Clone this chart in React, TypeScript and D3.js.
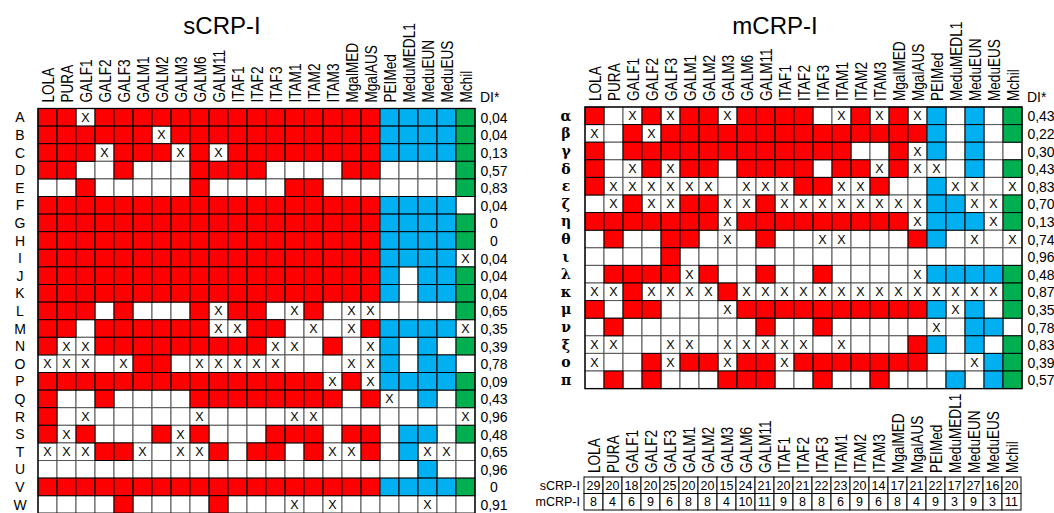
import React from "react";
import * as d3 from "d3";

const columns = ["LOLA", "PURA", "GALF1", "GALF2", "GALF3", "GALM1", "GALM2", "GALM3", "GALM6", "GALM11", "ITAF1", "ITAF2", "ITAF3", "ITAM1", "ITAM2", "ITAM3", "MgalMED", "MgalAUS", "PEIMed", "MeduMEDL1", "MeduEUN", "MeduEUS", "Mchil"];
const columnGroups = "rrrrrrrrrrrrrrrrrrbbbbg".split("");
const groupColors: Record<string, string> = { r: "#ff0000", b: "#00b0f0", g: "#00b050" };

// '1' = present (coloured), '0' = absent (white), 'x' = white cell marked X
const sRows = ["A", "B", "C", "D", "E", "F", "G", "H", "I", "J", "K", "L", "M", "N", "O", "P", "Q", "R", "S", "T", "U", "V", "W"];
const sCells = [
  "11x111111111111111 1111 1",
  "111111x11111111111 1111 1",
  "111x111x1x11111111 1111 1",
  "110010001111000011 0000 1",
  "001000001000011000 0000 1",
  "111111111111111111 1111 0",
  "111111111111111111 1111 1",
  "111111111111111111 1111 1",
  "111111111111111111 1111 x",
  "111111111111111111 1011 1",
  "111111111111111111 1011 1",
  "111010001x110x10xx 0000 1",
  "110111111xx110x0x1 1111 x",
  "1xx111111111xx010x 1010 1",
  "xxx0x110xxxxx000xx 1011 0",
  "111111111111111x1x 1111 1",
  "100100001111111101 x010 1",
  "10x00000x0000xx000 0000 x",
  "1x10001x1000111011 0110 1",
  "xxx11x0xx101101xx1 01xx 0",
  "000000000000000000 0010 0",
  "111111111111111111 1111 1",
  "0000100001000x0x00 00x0 0",
];
const sDI = ["0,04", "0,04", "0,13", "0,57", "0,83", "0,04", "0", "0", "0,04", "0,04", "0,04", "0,65", "0,35", "0,39", "0,78", "0,09", "0,43", "0,96", "0,48", "0,65", "0,96", "0", "0,91"];

const mRows = ["α", "β", "γ", "δ", "ε", "ζ", "η", "θ", "ι", "λ", "κ", "μ", "ν", "ξ", "ο", "π"];
const mCells = [
  "10x1x11x11110x1x1x 1010 1",
  "x01x11111111111111 1010 1",
  "10111111111111001x 1010 0",
  "10x1x1101111011x1x x010 1",
  "1xxxxxx0xxx11xx100 1xx0 x",
  "0x1xx11xx1xxxxxxxx 11xx 1",
  "1111111x111111111x 111x 1",
  "0100110x0100xx0001 10x0 x",
  "000010000000000000 0000 0",
  "01111x10010010000x 1111 1",
  "xx1xxxx1xxxxxxxxxx xxxx 1",
  "1011000x1111111111 1x10 1",
  "010000000100100000 x011 0",
  "xx00xx0xxxxx0x0001 1010 1",
  "x001x11x11x1111111 00x1 1",
  "010100011100100100 0101 1",
];
const mDI = ["0,43", "0,22", "0,30", "0,43", "0,83", "0,70", "0,13", "0,74", "0,96", "0,48", "0,87", "0,35", "0,78", "0,83", "0,39", "0,57"];

const tableRows = ["sCRP-I", "mCRP-I"];
const sCounts = [29, 20, 18, 20, 25, 20, 20, 15, 24, 21, 20, 21, 22, 23, 20, 14, 17, 21, 22, 17, 27, 16, 20];
const mCounts = [8, 4, 6, 9, 6, 8, 8, 4, 10, 11, 9, 8, 8, 6, 9, 6, 8, 4, 9, 3, 9, 3, 11];

const SANS = "'Liberation Sans', Arial, sans-serif";
const CW = 19;
const RH = 17.6;

function ColumnHeaders({ x, bottom }: { x: d3.ScaleBand<string>; bottom: number }) {
  return (
    <g>
      {columns.map((c) => (
        <text
          key={c}
          transform={`translate(${(x(c) as number) + x.bandwidth() / 2 + 0.5},${bottom}) rotate(-90) scale(0.8,1)`}
          fontFamily={SANS}
          fontSize={17}
          dominantBaseline="central"
          fill="#000"
        >
          {c}
        </text>
      ))}
    </g>
  );
}

function Grid({
  left, top, rows, cells, di, title, titleX, rowLabelX, greek,
}: {
  left: number; top: number; rows: string[]; cells: string[]; di: string[];
  title: string; titleX: number; rowLabelX: number; greek?: boolean;
}) {
  const x = d3.scaleBand<string>().domain(columns).range([left, left + CW * columns.length]).padding(0);
  const y = d3.scaleBand<string>().domain(rows).range([top, top + RH * rows.length]).padding(0);
  const parsed = cells.map((s) => s.replace(/\s+/g, "").split(""));
  const right = left + CW * columns.length;
  const items: { r: string; c: string; v: string; gi: number }[] = [];
  rows.forEach((r, ri) => columns.forEach((c, ci) => items.push({ r, c, v: parsed[ri][ci], gi: ci })));
  const whiteItems = items.filter((d) => d.v !== "1");
  const colItems = items.filter((d) => d.v === "1");
  return (
    <g>
      <text x={titleX} y={34} textAnchor="middle" fontFamily={SANS} fontSize={24} fill="#000">{title}</text>
      <ColumnHeaders x={x} bottom={top - 6} />
      <text x={right + 5} y={102} fontFamily={SANS} fontSize={14} fill="#000">DI*</text>
      {whiteItems.map((d) => (
        <g key={d.r + d.c}>
          <rect x={x(d.c)} y={y(d.r)} width={x.bandwidth()} height={y.bandwidth()} fill="#fff" stroke="#555" strokeWidth={1} />
          {d.v === "x" && (
            <text x={(x(d.c) as number) + x.bandwidth() / 2} y={(y(d.r) as number) + y.bandwidth() / 2 + 0.5} textAnchor="middle" dominantBaseline="central" fontFamily={SANS} fontSize={12.5} fill="#000">X</text>
          )}
        </g>
      ))}
      {colItems.map((d) => (
        <rect key={d.r + d.c} x={x(d.c)} y={y(d.r)} width={x.bandwidth()} height={y.bandwidth()} fill={groupColors[columnGroups[d.gi]]} stroke="#000" strokeWidth={1} />
      ))}
      <rect x={left} y={top} width={right - left} height={RH * rows.length} fill="none" stroke="#000" strokeWidth={1.3} />
      {rows.map((r, i) => (
        <g key={r}>
          <text
            x={rowLabelX}
            y={(y(r) as number) + y.bandwidth() / 2}
            textAnchor="middle"
            dominantBaseline="central"
            fontFamily={greek ? "'DejaVu Serif', 'Liberation Serif', serif" : SANS}
            fontWeight={greek ? "bold" : "normal"}
            fontSize={greek ? 14 : 14}
            fill="#000"
          >
            {r}
          </text>
          <text x={right + 19} y={(y(r) as number) + y.bandwidth() / 2 + 0.5} textAnchor="middle" dominantBaseline="central" fontFamily={SANS} fontSize={14} fill="#000">
            {di[i]}
          </text>
        </g>
      ))}
    </g>
  );
}

function CountTable({ left, top }: { left: number; top: number }) {
  const x = d3.scaleBand<string>().domain(columns).range([left, left + CW * columns.length]).padding(0);
  const th = 16.5;
  const y = d3.scaleBand<string>().domain(tableRows).range([top, top + th * tableRows.length]).padding(0);
  const vals = [sCounts, mCounts];
  return (
    <g>
      <ColumnHeaders x={x} bottom={top - 4} />
      {tableRows.map((r, ri) => (
        <g key={r}>
          <text x={left - 4} y={(y(r) as number) + th / 2 + 0.5} textAnchor="end" dominantBaseline="central" fontFamily={SANS} fontSize={12.5} fill="#000">{r}</text>
          {columns.map((c, ci) => (
            <g key={c}>
              <rect x={x(c)} y={y(r)} width={x.bandwidth()} height={th} fill="#fff" stroke="#000" strokeWidth={1} />
              <text x={(x(c) as number) + x.bandwidth() / 2} y={(y(r) as number) + th / 2 + 0.5} textAnchor="middle" dominantBaseline="central" fontFamily={SANS} fontSize={12.5} fill="#000">
                {vals[ri][ci]}
              </text>
            </g>
          ))}
        </g>
      ))}
    </g>
  );
}

export default function App() {
  return (
    <svg width={1054} height={513} style={{ position: "absolute", left: 0, top: 0, background: "#fff" }}>
      <rect x={0} y={0} width={1054} height={513} fill="#fff" />
      <Grid left={38} top={108.5} rows={sRows} cells={sCells} di={sDI} title="sCRP-I" titleX={222} rowLabelX={20} />
      <Grid left={585} top={107} rows={mRows} cells={mCells} di={mDI} title="mCRP-I" titleX={775} rowLabelX={566} greek />
      <CountTable left={584} top={477} />
    </svg>
  );
}
